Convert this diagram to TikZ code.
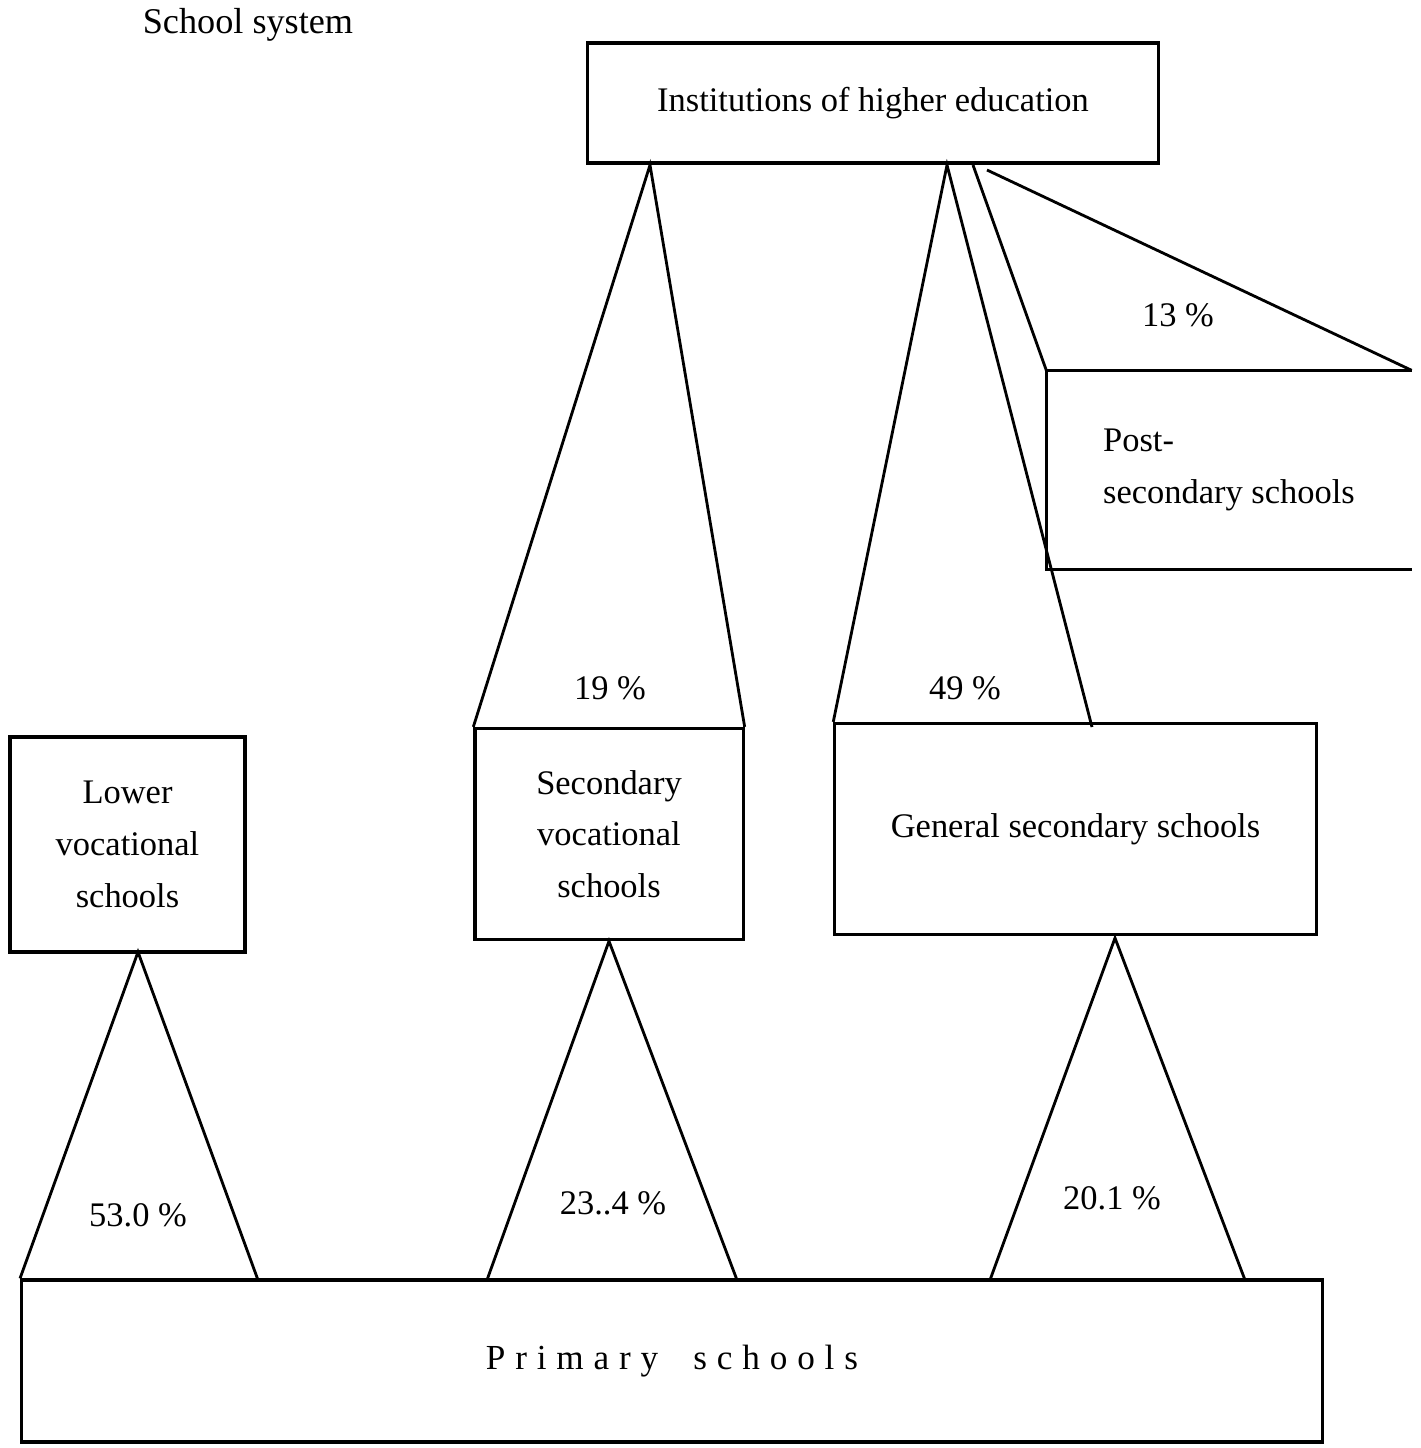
\documentclass[tikz,border=0pt]{standalone}
\usepackage{fontspec}
\setmainfont{Liberation Serif}
\newfontfamily\spacedfont[LetterSpace=28]{Liberation Serif}
\usepackage{tikz}

\begin{document}
\begin{tikzpicture}[x=0.01cm, y=-0.01cm,
    school/.style={rectangle, draw=black, line width=0.9pt, align=center, inner sep=0pt, font=\fontsize{9.8}{14.7}\selectfont},
    share/.style={font=\fontsize{9.8}{12}\selectfont},
    link/.style={line width=0.8pt}
]
\useasboundingbox (0,0) rectangle (1421,1448);
\node[share, font=\fontsize{10.3}{12}\selectfont] (title) at (248,25) {School system};

% boxes
\node[school, minimum width=5.70cm, minimum height=1.20cm] (higher) at (873,103) {Institutions of higher education};
\node[school, draw=none, align=left, minimum width=3.62cm, minimum height=1.96cm] (post) at (1229,470) {Post-\\secondary schools};
\draw[line width=0.9pt] (post.north east) -- (post.north west) -- (post.south west) -- (post.south east);
\node[school, minimum width=2.35cm, minimum height=2.15cm] (lower) at (127.5,844.5) {Lower\\vocational\\schools};
\node[school, minimum width=2.68cm, minimum height=2.11cm] (secvoc) at (609,834) {Secondary\\vocational\\schools};
\node[school, minimum width=4.81cm, minimum height=2.11cm] (general) at (1075.5,829) {General secondary schools};
\node[school, minimum width=13.00cm, minimum height=1.62cm, font=\spacedfont\fontsize{10}{12}\selectfont] (primary) at (672,1361) {Primary\quad schools};

% points where the wedges meet the boxes
\coordinate (hiSec) at (650,165);
\coordinate (hiGen) at (947,165);
\coordinate (hiPost) at (973,165);
\coordinate (hiPostR) at (987,170);
\coordinate (genR) at (1092,727);
\coordinate (loTop) at (138,952);
\coordinate (loR) at (258,1280);
\coordinate (svL) at (487,1280);
\coordinate (svR) at (737,1280);
\coordinate (geTop) at (1115,938);
\coordinate (geL) at (990,1280);
\coordinate (geR) at (1245,1280);

\draw[link] (secvoc.north west) -- (hiSec) -- (secvoc.north east);
\draw[link] (general.north west) -- (hiGen) -- (genR);
\draw[link] (post.north west) -- (hiPost);
\draw[link] (hiPostR) -- (post.north east);
\draw[link] (primary.north west) -- (loTop) -- (loR);
\draw[link] (svL) -- (secvoc.south) -- (svR);
\draw[link] (geL) -- (geTop) -- (geR);

% shares
\node[share] (p13) at (1178,315) {13 \%};
\node[share] (p19) at (610,688) {19 \%};
\node[share] (p49) at (965,688) {49 \%};
\node[share] (p53) at (138,1215) {53.0 \%};
\node[share] (p23) at (613,1203) {23..4 \%};
\node[share] (p20) at (1112,1198) {20.1 \%};
\end{tikzpicture}
\end{document}
